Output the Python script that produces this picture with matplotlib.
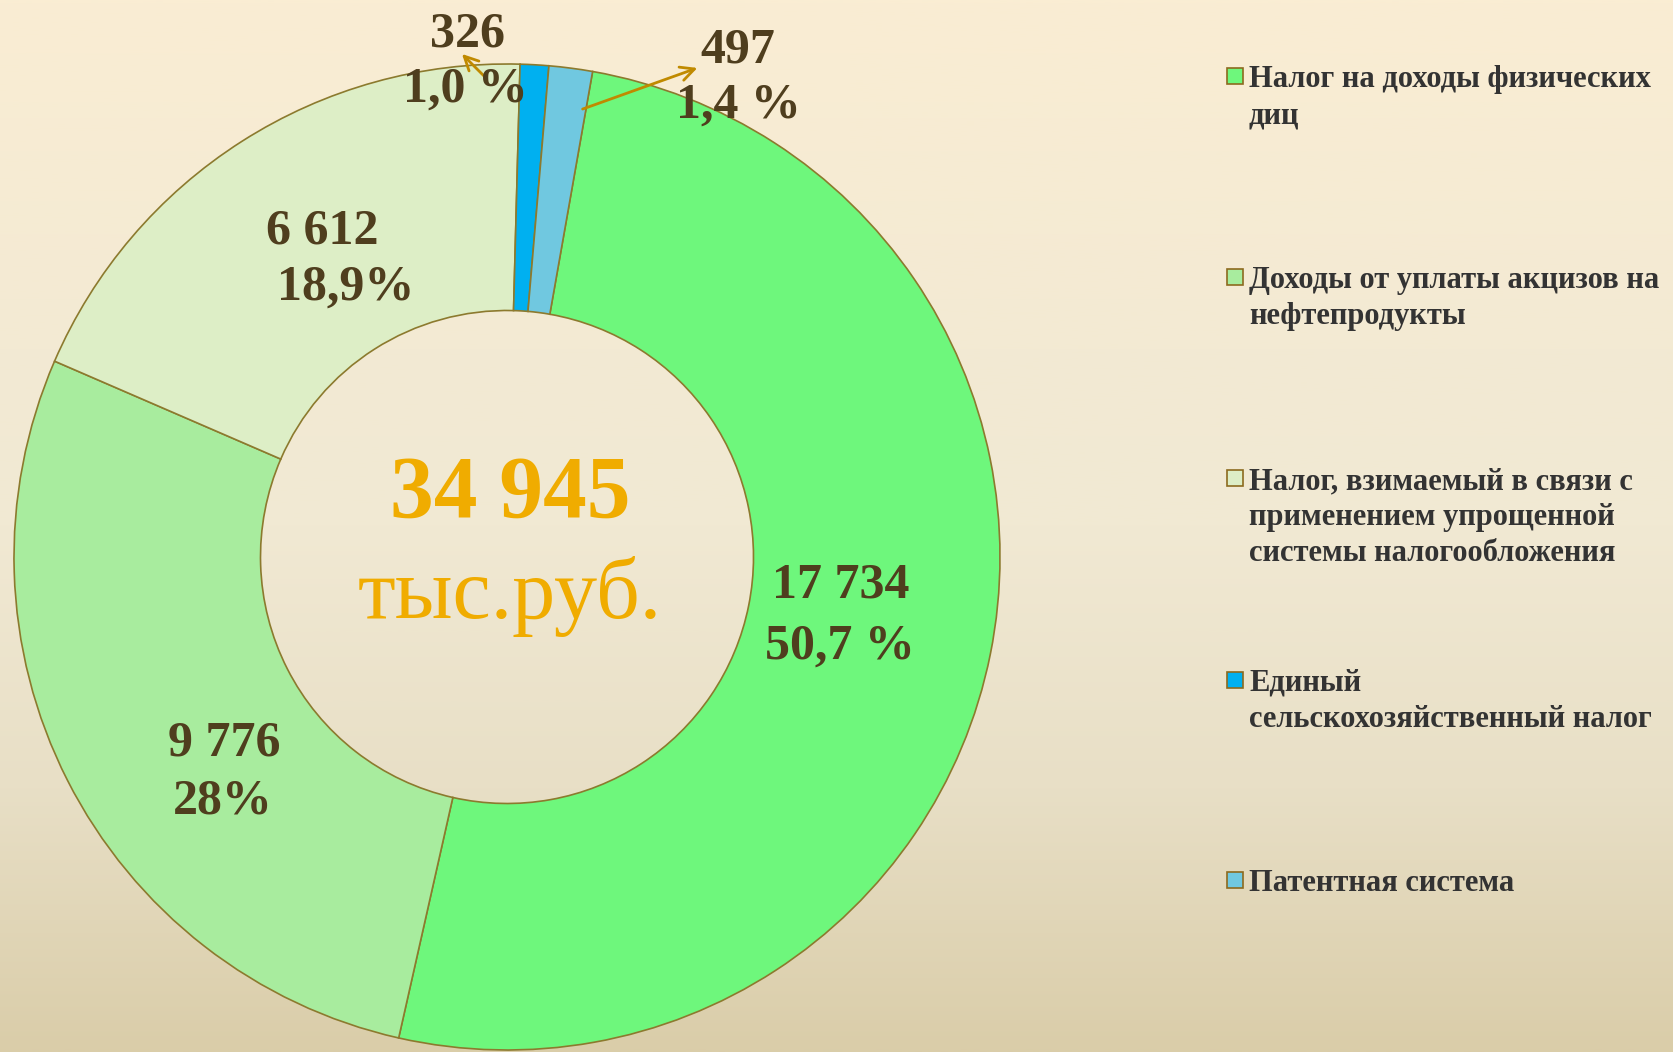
import matplotlib
matplotlib.use('Agg')
import matplotlib.pyplot as plt
import matplotlib.colors as mcolors
from matplotlib.patches import Rectangle
import numpy as np

plt.rcParams['font.family'] = ['Liberation Serif', 'DejaVu Serif']

# data (thousand rubles)
categories = ['Налог на доходы физических\nдиц',
              'Доходы от уплаты акцизов на\nнефтепродукты',
              'Налог, взимаемый в связи с\nприменением упрощенной\nсистемы налогообложения',
              'Единый\nсельскохозяйственный налог',
              'Патентная система']
values = [17734, 9776, 6612, 326, 497]
value_labels = ['17 734', '9 776', '6 612', '326', '497']
pct_labels = ['50,7 %', '28%', '18,9%', '1,0 %', '1,4 %']
total_label = '34 945'
unit_label = 'тыс.руб.'

colors = ['#6EF77C', '#A8EC9E', '#DDEEC6', '#00B0F0', '#70C8E0']
edge = '#8C7A2E'
label_col = '#4F3E1E'
legend_col = '#333333'
orange = '#F0AC00'
arrow_col = '#C08A00'

W, H = 1674, 1052
fig = plt.figure(figsize=(W / 100, H / 100), dpi=100)

# background gradient (light top, darker towards the bottom)
bg = fig.add_axes([0, 0, 1, 1], zorder=-10)
stops = [0, 0.33, 0.5, 0.75, 1]
stop_cols = ['#FAEDD3', '#F3EAD3', '#F1E9D3', '#E8DFC6', '#DACDA9']
cmap = mcolors.LinearSegmentedColormap.from_list('bg', list(zip(stops, stop_cols)))
bg.imshow(np.linspace(0, 1, 512)[:, None], aspect='auto', cmap=cmap,
          extent=[0, 1, 0, 1])
bg.axis('off')

# pie axes: center (507,557) px, radius 493 px
cx, cy, R = 507, 557, 493
ax = fig.add_axes([(cx - R) / W, (H - cy - R) / H, 2 * R / W, 2 * R / H])
ax.patch.set_alpha(0)
wedges, _ = ax.pie(values, colors=colors, startangle=80, counterclock=False,
                   radius=1, wedgeprops=dict(width=0.5, edgecolor=edge, linewidth=1.2))
ax.set_xlim(-1, 1)
ax.set_ylim(-1, 1)
ax.axis('off')

def d(px, py):
    return ((px - cx) / R, (cy - py) / R)

# data labels: (x centre, baseline) in pixels for value line and percent line
val_pos = [(841, 597), (224, 756), (322, 243), (467, 46), (738, 62)]
pct_pos = [(840, 659), (223, 813), (346, 300), (465, 102), (738, 118)]
for i in range(len(values)):
    for txt, (px, py) in [(value_labels[i], val_pos[i]), (pct_labels[i], pct_pos[i])]:
        ax.text(*d(px, py), txt, ha='center', va='baseline', fontsize=36,
                fontweight='bold', color=label_col, clip_on=False, zorder=5)

# leader arrows for the small slices
for (sx, sy), (ex, ey) in [((488, 80), (460, 52)), ((580, 110), (700, 67))]:
    ax.annotate('', xy=d(ex, ey), xytext=d(sx, sy),
                arrowprops=dict(arrowstyle='->', color=arrow_col, lw=2,
                                mutation_scale=25), annotation_clip=False)

# centre total
ax.text(*d(510, 517), total_label, ha='center', va='baseline', fontsize=63,
        fontweight='bold', color=orange)
ax.text(*d(510, 618), unit_label, ha='center', va='baseline', fontsize=62,
        color=orange)

# legend
leg_top = [68, 269, 470, 672, 872]
for i, lab in enumerate(categories):
    yt = leg_top[i]
    fig.patches.append(Rectangle((1227 / W, 1 - (yt + 16) / H), 16 / W, 16 / H,
                                 transform=fig.transFigure, facecolor=colors[i],
                                 edgecolor='#8C6A1E', linewidth=1.2))
    fig.text(1249 / W, 1 - (yt - 3) / H, lab, ha='left', va='top', fontsize=22,
             fontweight='bold', color=legend_col, linespacing=1.32)

fig.savefig('out.png', dpi=100)
